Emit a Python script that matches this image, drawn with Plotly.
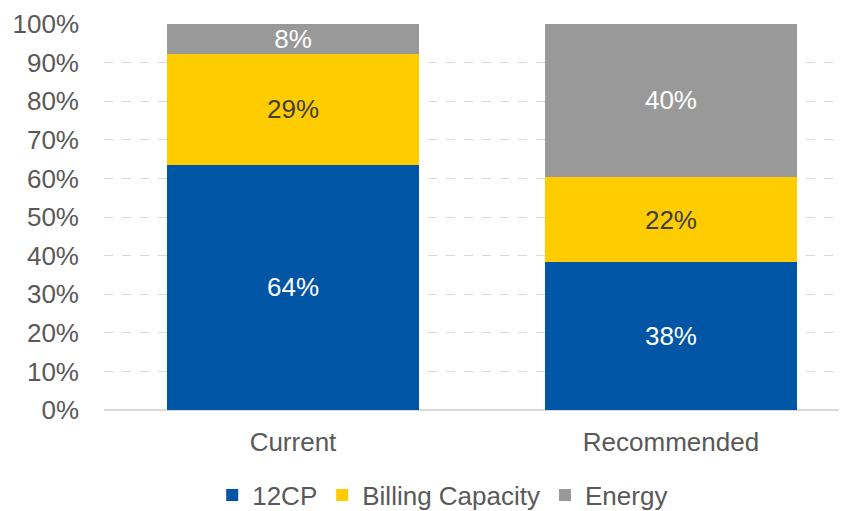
import plotly.graph_objects as go

categories = ["Current", "Recommended"]
series_names = ["12CP", "Billing Capacity", "Energy"]
cp12 = [63.6, 38.3]
billing_capacity = [28.6, 22.1]
energy = [7.8, 39.6]

colors = ["#0055A4", "#FFCC00", "#999999"]
text_colors = ["white", "#404040", "white"]

fig = go.Figure()
for name, vals, col, tcol in zip(series_names, [cp12, billing_capacity, energy], colors, text_colors):
    fig.add_trace(go.Bar(
        x=categories,
        y=vals,
        name=name,
        marker=dict(color=col, line=dict(width=0)),
        text=[f"{round(v)}%" for v in vals],
        textposition="inside",
        insidetextanchor="middle",
        textangle=0,
        constraintext="none",
        textfont=dict(color=tcol, size=26, family="Liberation Sans, Arial"),
        width=0.667,
    ))

# page body adds an 8px offset, so margins are shifted to compensate
fig.update_layout(
    barmode="stack",
    width=847,
    height=511,
    margin=dict(l=96, r=0, t=16, b=109),
    plot_bgcolor="white",
    paper_bgcolor="white",
    font=dict(family="Liberation Sans, Arial", size=26, color="#595959"),
    legend=dict(
        orientation="h",
        x=0.451,
        xanchor="center",
        yref="container",
        y=0.047,
        yanchor="middle",
        font=dict(size=26, color="#595959"),
        itemwidth=30,
        traceorder="normal",
    ),
    xaxis=dict(
        range=[-0.5, 1.487],
        showgrid=False,
        showline=False,
        ticks="",
        automargin=False,
        ticklabelstandoff=14,
        tickfont=dict(size=26, color="#595959"),
    ),
    yaxis=dict(
        range=[0, 100],
        dtick=10,
        ticksuffix="%",
        showgrid=True,
        gridcolor="#D9D9D9",
        griddash="dash",
        gridwidth=1,
        zeroline=True,
        zerolinecolor="#D9D9D9",
        zerolinewidth=1.5,
        ticks="",
        automargin=False,
        ticklabelstandoff=24,
        tickfont=dict(size=26, color="#595959"),
    ),
)

fig.write_html("out.html")
